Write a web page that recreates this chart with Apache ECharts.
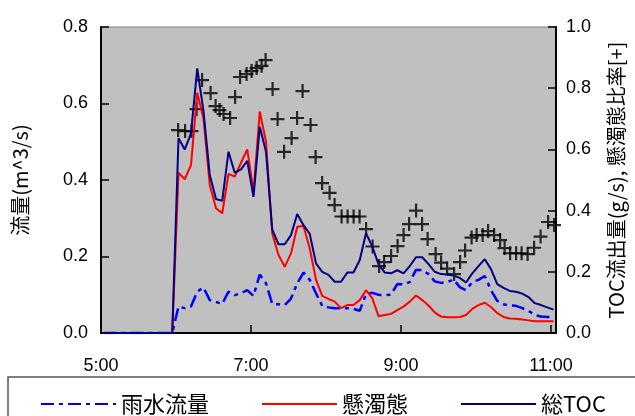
<!DOCTYPE html>
<html>
<head>
<meta charset="utf-8">
<script src="https://cdn.jsdelivr.net/npm/echarts@6/dist/echarts.min.js"></script>
<style>html,body{margin:0;padding:0;background:#fff;}#c{width:635px;height:416px;}</style>
</head>
<body>
<div id="c"></div>
<script>
// minutes after 5:00
const lineTimes = [2, 57, 62, 67, 72, 77, 82, 87, 92, 97, 102, 107, 112, 117, 122, 127, 132, 137, 142, 147, 152, 157, 162, 167, 172, 177, 182, 187, 192, 197, 202, 207, 212, 217, 222, 227, 232, 237, 242, 247, 252, 257, 262, 267, 272, 277, 282, 287, 292, 297, 302, 307, 312, 317, 322, 327, 332, 337, 342, 347, 352, 357, 362];
const rainFlow = [0, 0, 0.069, 0.065, 0.069, 0.108, 0.119, 0.086, 0.081, 0.076, 0.108, 0.099, 0.104, 0.112, 0.097, 0.153, 0.130, 0.076, 0.075, 0.073, 0.090, 0.130, 0.158, 0.139, 0.104, 0.071, 0.067, 0.065, 0.065, 0.065, 0.063, 0.058, 0.102, 0.105, 0.100, 0.099, 0.100, 0.128, 0.127, 0.133, 0.165, 0.165, 0.154, 0.135, 0.131, 0.133, 0.140, 0.120, 0.112, 0.133, 0.139, 0.149, 0.112, 0.084, 0.075, 0.072, 0.071, 0.065, 0.058, 0.047, 0.043, 0.042, 0.041];
const suspended = [0, 0, 0.419, 0.402, 0.439, 0.628, 0.560, 0.387, 0.326, 0.313, 0.416, 0.409, 0.445, 0.480, 0.370, 0.579, 0.500, 0.260, 0.204, 0.173, 0.208, 0.278, 0.280, 0.221, 0.139, 0.097, 0.089, 0.082, 0.065, 0.073, 0.073, 0.086, 0.112, 0.091, 0.044, 0.047, 0.050, 0.060, 0.069, 0.082, 0.098, 0.086, 0.072, 0.054, 0.043, 0.041, 0.041, 0.042, 0.047, 0.063, 0.073, 0.079, 0.068, 0.052, 0.042, 0.038, 0.037, 0.035, 0.033, 0.031, 0.031, 0.031, 0.031];
const totalTOC = [0, 0, 0.509, 0.480, 0.522, 0.692, 0.580, 0.413, 0.350, 0.346, 0.474, 0.419, 0.428, 0.450, 0.356, 0.539, 0.474, 0.270, 0.232, 0.232, 0.256, 0.311, 0.282, 0.259, 0.182, 0.160, 0.152, 0.134, 0.134, 0.158, 0.158, 0.191, 0.261, 0.226, 0.180, 0.158, 0.156, 0.164, 0.156, 0.175, 0.198, 0.198, 0.180, 0.160, 0.154, 0.153, 0.150, 0.144, 0.132, 0.156, 0.175, 0.193, 0.167, 0.128, 0.118, 0.110, 0.108, 0.103, 0.094, 0.078, 0.073, 0.067, 0.061];
const ratioTimes = [61.6, 67.2, 72.4, 76.4, 80.8, 87.6, 91.6, 94.8, 98, 103.2, 107.2, 111.2, 116.4, 120.4, 124.4, 128.4, 131.6, 137.2, 141.2, 146.4, 152.4, 156.8, 161.2, 167.6, 171.6, 176.8, 182.8, 186.8, 192.4, 197.2, 202, 206.8, 212, 217.2, 222.4, 226.4, 232, 237.2, 242, 246.4, 252, 256.8, 261.2, 267.6, 272, 276.8, 282.4, 287.2, 291.2, 296.4, 300.4, 305.2, 309.6, 314.4, 319.2, 322.8, 327.2, 332, 336.4, 341.2, 346.4, 351.6, 357.6, 362.4];
const suspendedRatio = [0.663, 0.660, 0.660, 0.732, 0.827, 0.784, 0.742, 0.729, 0.716, 0.703, 0.771, 0.837, 0.846, 0.856, 0.866, 0.873, 0.892, 0.797, 0.699, 0.592, 0.637, 0.703, 0.791, 0.680, 0.575, 0.490, 0.458, 0.418, 0.381, 0.381, 0.381, 0.381, 0.340, 0.283, 0.219, 0.232, 0.252, 0.284, 0.320, 0.356, 0.400, 0.356, 0.307, 0.258, 0.230, 0.211, 0.193, 0.232, 0.270, 0.312, 0.320, 0.320, 0.333, 0.320, 0.304, 0.278, 0.261, 0.261, 0.261, 0.258, 0.279, 0.315, 0.363, 0.353];
const xTickLabels = ['5:00', '7:00', '9:00', '11:00'];
const seriesNames = ['雨水流量', '懸濁態', '総TOC'];
const leftAxisName = '流量(m^3/s)';
const rightAxisName = 'TOC流出量(g/s), 懸濁態比率[+]';

const pair = (xs, ys) => xs.map((x, i) => [x, ys[i]]);
const FONT = '"Liberation Sans", "Noto Sans CJK JP", sans-serif';
const JFONT = '"Noto Sans CJK JP", "Liberation Sans", sans-serif';

const chart = echarts.init(document.getElementById('c'), null, {renderer: 'canvas'});
chart.setOption({
  backgroundColor: '#ffffff',
  animation: false,
  grid: {left: 101, right: 79, top: 27, bottom: 83, show: true, backgroundColor: '#c0c0c0', borderColor: '#808080', borderWidth: 1},
  legend: {
    data: seriesNames, left: 35, top: 388, itemWidth: 75, itemHeight: 12, itemGap: 52,
    itemStyle: {opacity: 0},
    textStyle: {fontFamily: JFONT, fontSize: 22, color: '#000'}
  },
  graphic: [{type: 'rect', shape: {x: 8, y: 377, width: 700, height: 100}, style: {fill: 'none', stroke: '#555', lineWidth: 1.5}, silent: true}],
  xAxis: {
    type: 'value', min: 0, max: 364, interval: 120,
    axisLine: {lineStyle: {color: '#000', width: 2}},
    axisTick: {inside: true, length: 8, lineStyle: {color: '#000', width: 1.5}},
    splitLine: {show: false},
    axisLabel: {fontFamily: FONT, fontSize: 18, color: '#000', margin: 24, showMaxLabel: false,
      formatter: v => xTickLabels[Math.round(v / 120)] || ''}
  },
  yAxis: [{
    type: 'value', min: 0, max: 0.8, interval: 0.2,
    name: leftAxisName, nameLocation: 'middle', nameGap: 71, nameRotate: 90,
    nameTextStyle: {fontFamily: JFONT, fontSize: 20, color: '#000'},
    axisLine: {show: true, lineStyle: {color: '#000', width: 2}},
    axisTick: {inside: true, length: 8, lineStyle: {color: '#000', width: 1.5}},
    splitLine: {show: false},
    axisLabel: {fontFamily: FONT, fontSize: 18, color: '#000', margin: 13, formatter: v => v.toFixed(1)}
  }, {
    type: 'value', min: 0, max: 1.0, interval: 0.2, position: 'right',
    name: rightAxisName, nameLocation: 'middle', nameGap: 50, nameRotate: 90,
    nameTextStyle: {fontFamily: JFONT, fontSize: 20, color: '#000'},
    axisLine: {show: true, lineStyle: {color: '#000', width: 2}},
    axisTick: {inside: true, length: 8, lineStyle: {color: '#000', width: 1.5}},
    splitLine: {show: false},
    axisLabel: {fontFamily: FONT, fontSize: 18, color: '#000', margin: 10, formatter: v => v.toFixed(1)}
  }],
  series: [
    {name: seriesNames[0], type: 'line', yAxisIndex: 0, data: pair(lineTimes, rainFlow), showSymbol: false, symbol: 'none',
      lineStyle: {color: '#0000ff', width: 2.5, type: [13, 5, 4, 5]}, itemStyle: {color: '#0000ff'}},
    {name: seriesNames[1], type: 'line', yAxisIndex: 0, data: pair(lineTimes, suspended), showSymbol: false, symbol: 'none',
      lineStyle: {color: '#ff0000', width: 2}, itemStyle: {color: '#ff0000'}},
    {name: seriesNames[2], type: 'line', yAxisIndex: 0, data: pair(lineTimes, totalTOC), showSymbol: false, symbol: 'none',
      lineStyle: {color: '#000080', width: 2}, itemStyle: {color: '#000080'}},
    {name: '懸濁態比率', type: 'scatter', yAxisIndex: 1, data: pair(ratioTimes, suspendedRatio),
      symbol: 'path://M6,0H8.2V6H14V8.2H8.2V14H6V8.2H0V6H6Z', symbolSize: 14, itemStyle: {color: '#000'}, clip: false}
  ]
});
</script>
</body>
</html>
